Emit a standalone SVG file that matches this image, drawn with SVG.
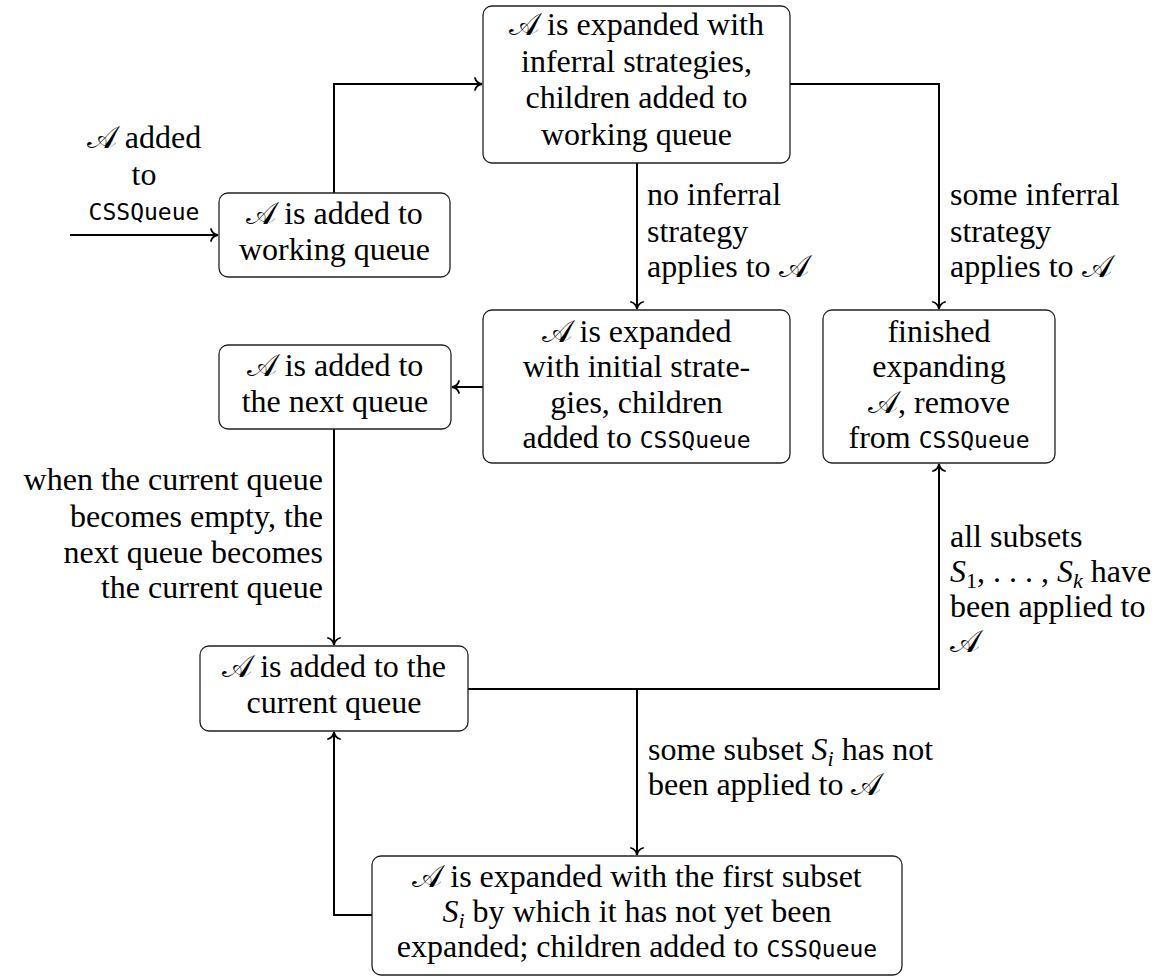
<svg xmlns="http://www.w3.org/2000/svg" width="1166" height="977" viewBox="0 0 1166 977">
<style>
.box{fill:#fff;stroke:#222;stroke-width:1.3}
.t{font-family:"Liberation Serif",serif;font-size:32px;fill:#000}
.c{text-anchor:middle}
.r{text-anchor:end}
.m{font-family:"DejaVu Sans Mono",monospace;font-size:23px}
.i{font-style:italic}
.cal{font-family:"DejaVu Serif","Noto Sans",serif}
.sub{font-size:22px;font-style:italic}
.sub1{font-size:22px}
.conn{fill:none;stroke:#000;stroke-width:2}
</style>
<defs>
<marker id="arr" markerUnits="userSpaceOnUse" markerWidth="14" markerHeight="14" refX="0" refY="0" viewBox="-8 -7 10 14" orient="auto">
<path d="M-7,-6 C-6,-2.2 -2.7,-0.5 0,0 C-2.7,0.5 -6,2.2 -7,6" fill="none" stroke="#000" stroke-width="1.8" stroke-linecap="round"/>
</marker>
</defs>
<g id="connectors">
<path class="conn" d="M70,235 H218" marker-end="url(#arr)"/>
<path class="conn" d="M334,193 V84 H482" marker-end="url(#arr)"/>
<path class="conn" d="M637,163 V309" marker-end="url(#arr)"/>
<path class="conn" d="M790,84 H939 V309" marker-end="url(#arr)"/>
<path class="conn" d="M483,387 H452" marker-end="url(#arr)"/>
<path class="conn" d="M334,429 V645" marker-end="url(#arr)"/>
<path class="conn" d="M468,689 H939 V464" marker-end="url(#arr)"/>
<path class="conn" d="M637,689 V855" marker-end="url(#arr)"/>
<path class="conn" d="M372,915 H334 V732" marker-end="url(#arr)"/>
<g class="t">
<text x="144" y="148" class="c"><tspan class="cal">𝒜</tspan> added</text>
<text x="144" y="185" class="c">to</text>
<text x="144" y="220" class="c m">CSSQueue</text>
<text x="647" y="205">no inferral</text>
<text x="647" y="242">strategy</text>
<text x="647" y="277">applies to <tspan class="cal">𝒜</tspan></text>
<text x="950" y="205">some inferral</text>
<text x="950" y="242">strategy</text>
<text x="950" y="277">applies to <tspan class="cal">𝒜</tspan></text>
<text x="323" y="490" class="r">when the current queue</text>
<text x="323" y="527" class="r">becomes empty, the</text>
<text x="323" y="563" class="r">next queue becomes</text>
<text x="323" y="598" class="r">the current queue</text>
<text x="950" y="547">all subsets</text>
<text x="950" y="582"><tspan class="i">S</tspan><tspan class="sub1" baseline-shift="-6">1</tspan>, . . . , <tspan class="i">S</tspan><tspan class="sub" baseline-shift="-6">k</tspan> have</text>
<text x="950" y="617">been applied to</text>
<text x="950" y="652" class="cal">𝒜</text>
<text x="648" y="760">some subset <tspan class="i">S</tspan><tspan class="sub" baseline-shift="-6">i</tspan> has not</text>
<text x="648" y="795">been applied to <tspan class="cal">𝒜</tspan></text>
</g>
</g>
<g id="n1">
<rect class="box" x="219" y="193" width="231" height="84" rx="9"/>
<text class="t c" x="334.5" y="224"><tspan class="cal">𝒜</tspan> is added to</text>
<text class="t c" x="334.5" y="260">working queue</text>
</g>
<g id="n2">
<rect class="box" x="483" y="6" width="307" height="157" rx="9"/>
<text class="t c" x="636.5" y="35"><tspan class="cal">𝒜</tspan> is expanded with</text>
<text class="t c" x="636.5" y="72">inferral strategies,</text>
<text class="t c" x="636.5" y="108">children added to</text>
<text class="t c" x="636.5" y="145">working queue</text>
</g>
<g id="n3">
<rect class="box" x="483" y="310" width="307" height="153" rx="9"/>
<text class="t c" x="636.5" y="342"><tspan class="cal">𝒜</tspan> is expanded</text>
<text class="t c" x="636.5" y="377">with initial strate-</text>
<text class="t c" x="636.5" y="413">gies, children</text>
<text class="t c" x="636.5" y="448">added to <tspan class="m">CSSQueue</tspan></text>
</g>
<g id="n4">
<rect class="box" x="823" y="310" width="232" height="153" rx="9"/>
<text class="t c" x="939" y="342">finished</text>
<text class="t c" x="939" y="377">expanding</text>
<text class="t c" x="939" y="413"><tspan class="cal">𝒜</tspan>, remove</text>
<text class="t c" x="939" y="448">from <tspan class="m">CSSQueue</tspan></text>
</g>
<g id="n5">
<rect class="box" x="219" y="345" width="232" height="84" rx="9"/>
<text class="t c" x="335" y="376"><tspan class="cal">𝒜</tspan> is added to</text>
<text class="t c" x="335" y="412">the next queue</text>
</g>
<g id="n6">
<rect class="box" x="200" y="646" width="268" height="85" rx="9"/>
<text class="t c" x="334" y="677"><tspan class="cal">𝒜</tspan> is added to the</text>
<text class="t c" x="334" y="713">current queue</text>
</g>
<g id="n7">
<rect class="box" x="372" y="856" width="530" height="119" rx="9"/>
<text class="t c" x="637" y="887"><tspan class="cal">𝒜</tspan> is expanded with the first subset</text>
<text class="t c" x="637" y="922"><tspan class="i">S</tspan><tspan class="sub" baseline-shift="-6">i</tspan> by which it has not yet been</text>
<text class="t c" x="637" y="957">expanded; children added to <tspan class="m">CSSQueue</tspan></text>
</g>
</svg>
